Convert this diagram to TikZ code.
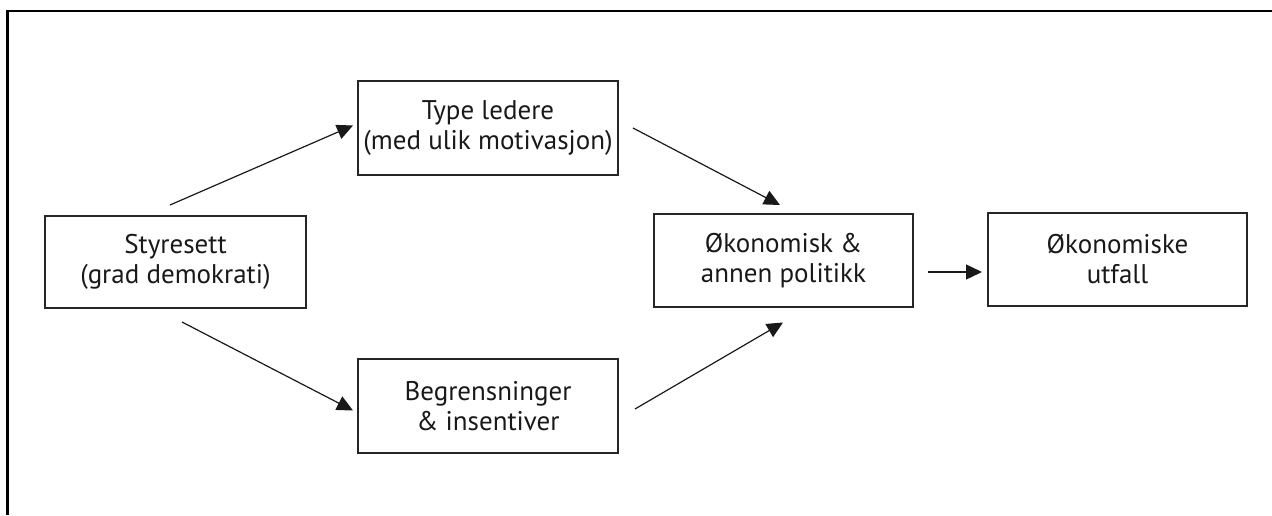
\documentclass[tikz,border=0pt]{standalone}
\usepackage{fontspec}
\setmainfont{PT Sans}
\usetikzlibrary{arrows.meta}
\tikzset{
  boxnode/.style={draw=black!85, line width=1.3pt, align=center,
    minimum width=260pt, minimum height=93pt, inner sep=0pt,
    font=\fontsize{27}{30}\selectfont, text=black!90},
  flow/.style={line width=1.2pt, draw=black!90, -{Triangle[length=16pt,width=15pt]}},
  framestyle/.style={line width=2.4pt, draw=black}
}
\begin{document}
\begin{tikzpicture}[x=1pt,y=-1pt]
\useasboundingbox (0,0) rectangle (1272,515);
\draw[framestyle] (7.5,515) -- (7.5,11) -- (1272,11);

\node[boxnode, minimum width=261pt, minimum height=92pt] (sty) at (175.5,262) {Styresett\\(grad demokrati)};
\node[boxnode, minimum height=94pt] (typ) at (488,128) {Type ledere\\(med ulik motivasjon)};
\node[boxnode, minimum height=94pt] (beg) at (488,406) {Begrensninger\\\& insentiver};
\node[boxnode, minimum width=259pt] (oek) at (783.5,260.5) {Økonomisk \&\\annen politikk};
\node[boxnode, minimum width=259pt] (utf) at (1117.5,259.5) {Økonomiske\\utfall};

\coordinate (a1s) at (170,205);
\coordinate (a1e) at (353,125.5);
\coordinate (a2s) at (633,128);
\coordinate (a2e) at (780,205);
\coordinate (a3s) at (182,322);
\coordinate (a3e) at (353,410.5);
\coordinate (a4s) at (635,409);
\coordinate (a4e) at (783,322.5);
\coordinate (a5s) at (928,272);
\coordinate (a5e) at (982,272);

\draw[flow] (a1s) -- (a1e);
\draw[flow] (a2s) -- (a2e);
\draw[flow] (a3s) -- (a3e);
\draw[flow] (a4s) -- (a4e);
\draw[flow] (a5s) -- (a5e);
\end{tikzpicture}
\end{document}
